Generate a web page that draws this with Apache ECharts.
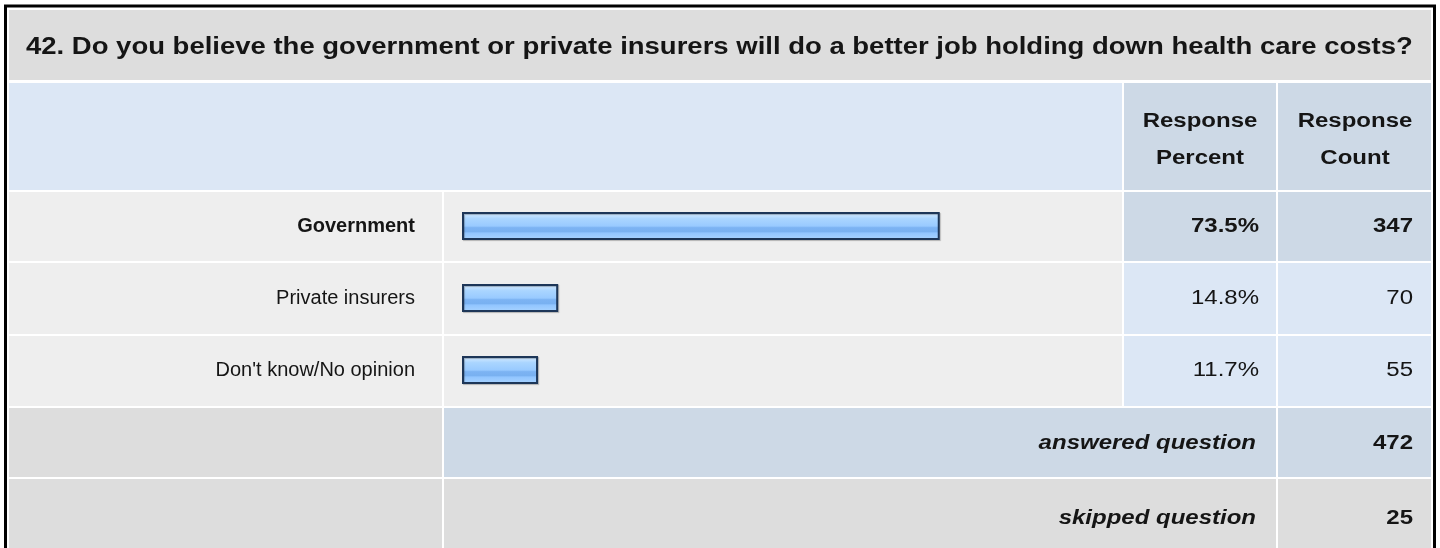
<!DOCTYPE html>
<html>
<head>
<meta charset="utf-8">
<script src="https://cdn.jsdelivr.net/npm/echarts@6/dist/echarts.min.js"></script>
<style>
  html, body { margin: 0; padding: 0; background: #ffffff; }
  #chart { width: 1440px; height: 548px; }
</style>
</head>
<body>
<div id="chart"></div>
<script>
// ---- data ----
const questionTitle = '42. Do you believe the government or private insurers will do a better job holding down health care costs?';
const categories = ['Government', 'Private insurers', "Don't know/No opinion"];
const percents = [73.5, 14.8, 11.7];
const counts = [347, 70, 55];
const headerPercent = ['Response', 'Percent'];
const headerCount = ['Response', 'Count'];
const answeredLabel = 'answered question';
const answeredCount = 472;
const skippedLabel = 'skipped question';
const skippedCount = 25;

// ---- layout / styles ----
const FONT = '"Liberation Sans", Arial, Helvetica, sans-serif';
const TXT = '#151515';
const GREY = '#dddddd';
const LIGHT = '#eeeeee';
const BLUE_L = '#dce7f5';
const BLUE_D = '#cdd9e6';
const STRETCH = 1.2;
const colL = [9, 442], colB = [444, 1122], colP = [1124, 1276], colC = [1278, 1431];
const rowY = [[192, 261], [263, 334], [336, 406]];

const chart = echarts.init(document.getElementById('chart'), null, { renderer: 'canvas' });

function rect(x0, x1, y0, y1, fill) {
  return { type: 'rect', z: -10, silent: true, shape: { x: x0, y: y0, width: x1 - x0, height: y1 - y0 }, style: { fill: fill } };
}

const barGradient = new echarts.graphic.LinearGradient(0, 0, 0, 1, [
  { offset: 0.00, color: '#d8ecff' },
  { offset: 0.12, color: '#c4e2ff' },
  { offset: 0.24, color: '#aad5ff' },
  { offset: 0.50, color: '#99caff' },
  { offset: 0.56, color: '#7cb3f3' },
  { offset: 0.70, color: '#79b1f1' },
  { offset: 0.75, color: '#91c5ff' },
  { offset: 1.00, color: '#aad4ff' }
]);

chart.setOption({
  animation: false,
  backgroundColor: '#ffffff',
  grid: { left: 462, top: 190, width: 650, height: 216, containLabel: false },
  xAxis: { type: 'value', min: 0, max: 100, show: false },
  yAxis: {
    type: 'category', inverse: true, data: categories, z: 5,
    axisLine: { show: false }, axisTick: { show: false }, splitLine: { show: false },
    axisLabel: { show: false }
  },
  series: [{
    type: 'bar', data: percents, barWidth: 28, z: 5,
    itemStyle: {
      color: barGradient, borderColor: '#1d3658', borderWidth: 2,
      shadowColor: 'rgba(0,0,0,0.25)', shadowBlur: 1, shadowOffsetX: 1, shadowOffsetY: 1
    }
  }]
});

// build table cells and texts, positioned from the axis scale
const ys = categories.map(function (c) { return chart.convertToPixel({ yAxisIndex: 0 }, c); });
const labelRight = chart.convertToPixel({ xAxisIndex: 0 }, 0) - 47;
const g = [];
// outer border
g.push({ type: 'rect', z: -5, silent: true, shape: { x: 5.5, y: 6, width: 1429, height: 560 }, style: { fill: null, stroke: '#000', lineWidth: 3 } });
// title row
g.push(rect(9, 1431, 10, 80, GREY));
// header row
g.push(rect(9, 1122, 83, 190, BLUE_L));
g.push(rect(colP[0], colP[1], 83, 190, BLUE_D));
g.push(rect(colC[0], colC[1], 83, 190, BLUE_D));
// data rows
rowY.forEach(function (r, i) {
  g.push(rect(colL[0], colL[1], r[0], r[1], LIGHT));
  g.push(rect(colB[0], colB[1], r[0], r[1], LIGHT));
  g.push(rect(colP[0], colP[1], r[0], r[1], i === 0 ? BLUE_D : BLUE_L));
  g.push(rect(colC[0], colC[1], r[0], r[1], i === 0 ? BLUE_D : BLUE_L));
});
// answered / skipped rows
g.push(rect(colL[0], colL[1], 408, 477, GREY));
g.push(rect(colB[0], colP[1], 408, 477, BLUE_D));
g.push(rect(colC[0], colC[1], 408, 477, BLUE_D));
g.push(rect(colL[0], colL[1], 479, 560, GREY));
g.push(rect(colB[0], colP[1], 479, 560, GREY));
g.push(rect(colC[0], colC[1], 479, 560, GREY));

function txt(s, x, y, align, weight, style, size, lh, sx) {
  return {
    type: 'text', z: 20, silent: true, x: x, y: y, scaleX: sx || STRETCH,
    style: {
      text: s, fill: TXT, font: (style || 'normal') + ' ' + (weight || 'normal') + ' ' + (size || 20) + 'px ' + FONT,
      align: align, verticalAlign: 'middle', lineHeight: lh || undefined
    }
  };
}
g.push(txt(questionTitle, 26, 48, 'left', 'bold', 'normal', 23, null, 1.195));
g.push(txt(headerPercent.join('\n'), 1200, 140, 'center', 'bold', 'normal', 20, 37));
g.push(txt(headerCount.join('\n'), 1355, 140, 'center', 'bold', 'normal', 20, 37));
categories.forEach(function (c, i) {
  g.push(txt(c, labelRight, ys[i], 'right', i === 0 ? 'bold' : 'normal', 'normal', 20, null, 1.0));
});
percents.forEach(function (p, i) {
  const w = i === 0 ? 'bold' : 'normal';
  g.push(txt(p.toFixed(1) + '%', 1259, ys[i], 'right', w));
  g.push(txt(String(counts[i]), 1413, ys[i], 'right', w));
});
g.push(txt(answeredLabel, 1256, 443, 'right', 'bold', 'italic'));
g.push(txt(String(answeredCount), 1413, 443, 'right', 'bold'));
g.push(txt(skippedLabel, 1256, 518, 'right', 'bold', 'italic'));
g.push(txt(String(skippedCount), 1413, 518, 'right', 'bold'));

chart.setOption({ graphic: g });
</script>
</body>
</html>
